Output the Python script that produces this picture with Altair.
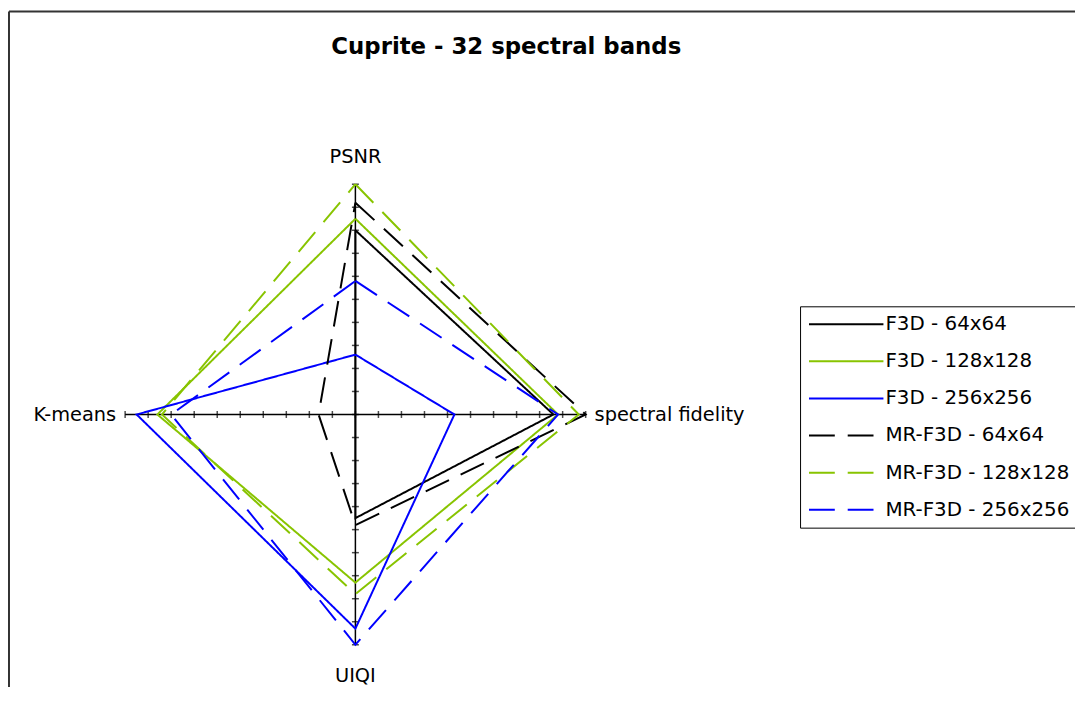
import altair as alt
import pandas as pd

# ---------------- data ----------------
axes_names = ["PSNR", "spectral fidelity", "UIQI", "K-means"]
series = ["F3D - 64x64", "F3D - 128x128", "F3D - 256x256",
          "MR-F3D - 64x64", "MR-F3D - 128x128", "MR-F3D - 256x256"]
psnr     = [0.80, 0.85, 0.26, 0.92, 1.00, 0.58]
spectral = [0.86, 0.88, 0.43, 1.00, 0.97, 0.88]
uiqi     = [0.45, 0.73, 0.93, 0.48, 0.78, 1.00]
kmeans   = [0.00, 0.86, 0.95, 0.16, 0.84, 0.80]
ticks = [round(i / 10, 1) for i in range(-10, 11)]

colors = ["#000000", "#88c400", "#0000ff", "#000000", "#88c400", "#0000ff"]
dashes = [[1, 0], [1, 0], [1, 0], [26, 13], [26, 13], [26, 13]]
widths = [2, 2, 2, 3, 2, 3]

FONT = "DejaVu Sans"

# direction of each radar axis (PSNR up, spectral right, UIQI down, K-means left)
dirs = {"PSNR": (0, 1), "spectral fidelity": (1, 0), "UIQI": (0, -1), "K-means": (-1, 0)}

rows = []
for i, s in enumerate(series):
    vals = [psnr[i], spectral[i], uiqi[i], kmeans[i]]
    seq = list(zip(axes_names + [axes_names[0]], vals + [vals[0]]))
    for k, (name, v) in enumerate(seq):
        ux, uy = dirs[name]
        rows.append({"series": s, "axis": name, "order": k, "x": ux * v, "y": uy * v, "value": v})
df = pd.DataFrame(rows)

xs = alt.Scale(domain=[-1, 1], nice=False, zero=False)
ys = alt.Scale(domain=[-1, 1], nice=False, zero=False)
X = lambda f: alt.X(f, scale=xs, axis=None)
Y = lambda f: alt.Y(f, scale=ys, axis=None)

# frame (left and top edges of the outer box)
frame_v = alt.Chart(pd.DataFrame({"k": [0]})).mark_rule(color="#333333", strokeWidth=2).encode(
    x=alt.value(-117), y=alt.value(-174), y2=alt.value(520))
frame_h = alt.Chart(pd.DataFrame({"k": [0]})).mark_rule(color="#333333", strokeWidth=2).encode(
    x=alt.value(-117), x2=alt.value(960), y=alt.value(-174))

# radar axes
axes_df = pd.DataFrame({"x": [-1, 0], "x2": [1, 0], "y": [0, -1], "y2": [0, 1]})
axis_lines = alt.Chart(axes_df).mark_rule(color="black", strokeWidth=1.5).encode(
    x=X("x:Q"), x2="x2:Q", y=Y("y:Q"), y2="y2:Q")

tick_df = pd.DataFrame({"t": ticks, "z": [0] * len(ticks)})
ticks_h = alt.Chart(tick_df).mark_tick(orient="vertical", size=7, thickness=1.5, color="black").encode(
    x=X("t:Q"), y=Y("z:Q"))
ticks_v = alt.Chart(tick_df).mark_tick(orient="horizontal", size=7, thickness=1.5, color="black").encode(
    x=X("z:Q"), y=Y("t:Q"))

# radar polygons
lines = alt.Chart(df).mark_line(clip=False, strokeJoin="miter").encode(
    x=X("x:Q"),
    y=Y("y:Q"),
    order="order:Q",
    color=alt.Color("series:N", scale=alt.Scale(domain=series, range=colors),
                    sort=series, legend=alt.Legend(title=None)),
    strokeDash=alt.StrokeDash("series:N", scale=alt.Scale(domain=series, range=dashes),
                              sort=series, legend=alt.Legend(title=None)),
    strokeWidth=alt.StrokeWidth("series:N", scale=alt.Scale(domain=series, range=widths),
                                sort=series, legend=alt.Legend(title=None)),
)

def axis_label(name, align, dx, dy):
    ux, uy = dirs[name]
    d = pd.DataFrame({"label": [name], "x": [ux], "y": [uy]})
    return alt.Chart(d).mark_text(align=align, baseline="middle", dx=dx, dy=dy,
                                  font=FONT, fontSize=19.5, color="black").encode(
        x=X("x:Q"), y=Y("y:Q"), text="label:N")

labels = [
    axis_label("PSNR", "center", 0, -27),
    axis_label("spectral fidelity", "left", 9, 1),
    axis_label("UIQI", "center", 0, 32),
    axis_label("K-means", "right", -9, 1),
]

chart = alt.layer(frame_v, frame_h, axis_lines, ticks_h, ticks_v, lines, *labels).properties(
    width=464, height=464,
    padding={"left": 118, "top": 175, "right": 493, "bottom": 40},
    autosize=alt.AutoSizeParams(type="none"),
    title=alt.TitleParams("Cuprite - 32 spectral bands", font=FONT, fontSize=23,
                          fontWeight="bold", color="black", anchor="middle",
                          dx=152, offset=-67, baseline="alphabetic"),
).configure_view(stroke=None).configure_legend(
    orient="none", legendX=680, legendY=123,
    symbolType="stroke", symbolSize=5625,
    labelFont=FONT, labelFontSize=20, labelColor="black", labelLimit=400,
    strokeColor="black", padding=8, clipHeight=20, rowPadding=17.4,
    labelOffset=1,
)

chart.save("out.html", embed_options={"renderer": "svg", "actions": False})
